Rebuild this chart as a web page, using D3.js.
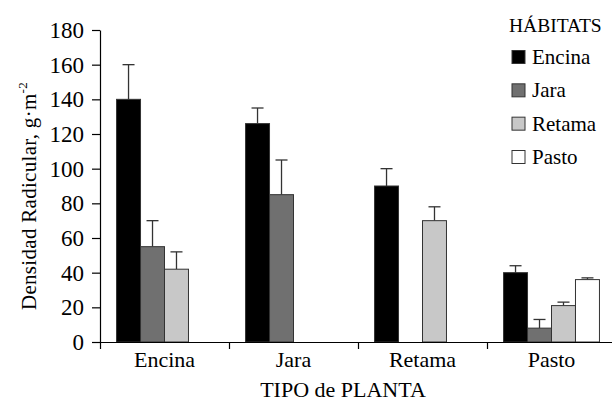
<!DOCTYPE html>
<html>
<head>
<meta charset="utf-8">
<script src="https://cdn.jsdelivr.net/npm/d3@7"></script>
<style>
  html, body { margin: 0; padding: 0; background: #fff; }
  svg { display: block; }
</style>
</head>
<body>
<svg id="chart" width="612" height="401"></svg>
<script>
// plant types on the x axis, habitats as series
const categories = ['Encina', 'Jara', 'Retama', 'Pasto'];
const habitats = ['Encina', 'Jara', 'Retama', 'Pasto'];
const colors = ['#000000', '#707070', '#c8c8c8', '#ffffff'];

// mean values per plant type, one entry per habitat (null = no bar)
const encinaVals = [140, 55, 42, null];
const jaraVals = [126, 85, null, null];
const retamaVals = [90, null, 70, null];
const pastoVals = [40, 8, 21, 36];

// upper end of each error bar
const encinaErr = [160, 70, 52, null];
const jaraErr = [135, 105, null, null];
const retamaErr = [100, null, 78, null];
const pastoErr = [44, 13, 23, 37];

const yTicks = [0, 20, 40, 60, 80, 100, 120, 140, 160, 180];

const values = [encinaVals, jaraVals, retamaVals, pastoVals];
const errs = [encinaErr, jaraErr, retamaErr, pastoErr];

// generic serif set on every text element; no letter-spacing
const FONT = 'serif';
const svg = d3.select('#chart').attr('font-family', FONT);
const M = { left: 100, right: 616, top: 30, bottom: 342 };

const x = d3.scaleBand().domain(categories).range([M.left, M.right]);
const xSub = d3.scaleBand().domain(habitats).range([0, x.bandwidth()]).paddingOuter(0.69);
const y = d3.scaleLinear().domain([0, 180]).range([M.bottom, M.top]);
const xBound = d3.scaleLinear().domain([0, categories.length]).range([M.left, M.right]);

const rows = [];
categories.forEach((c, i) => {
  habitats.forEach((h, j) => {
    if (values[i][j] != null) rows.push({ cat: c, hab: h, v: values[i][j], e: errs[i][j], color: colors[j] });
  });
});

// error bars (drawn under bars)
const eb = svg.append('g').attr('stroke', '#333').attr('stroke-width', 1.3);
rows.forEach(d => {
  const cx = x(d.cat) + xSub(d.hab) + xSub.bandwidth() / 2;
  eb.append('line').attr('x1', cx).attr('x2', cx).attr('y1', y(d.v)).attr('y2', y(d.e));
  eb.append('line').attr('x1', cx - 6).attr('x2', cx + 6).attr('y1', y(d.e)).attr('y2', y(d.e));
});

svg.append('g').selectAll('rect')
  .data(rows)
  .join('rect')
  .attr('x', d => x(d.cat) + xSub(d.hab))
  .attr('y', d => y(d.v))
  .attr('width', xSub.bandwidth())
  .attr('height', d => y(0) - y(d.v))
  .attr('fill', d => d.color)
  .attr('stroke', '#333')
  .attr('stroke-width', 1);

// y axis
const yAxis = svg.append('g')
  .attr('transform', `translate(${M.left},0)`)
  .call(d3.axisLeft(y).tickValues(yTicks).tickSize(8).tickSizeOuter(0).tickPadding(8))
  .attr('font-family', FONT);
yAxis.selectAll('text')
  .attr('fill', '#000')
  .attr('font-family', FONT)
  .attr('font-size', 23);
yAxis.selectAll('line, path').attr('stroke', '#000').attr('stroke-width', 1.2);

// x axis with ticks at category boundaries
const xAxis = svg.append('g')
  .attr('transform', `translate(0,${M.bottom})`)
  .call(d3.axisBottom(xBound).tickValues(d3.range(categories.length)).tickFormat('').tickSize(7).tickSizeOuter(0));
xAxis.selectAll('line, path').attr('stroke', '#000').attr('stroke-width', 1.2);

svg.append('g').selectAll('text')
  .data(categories)
  .join('text')
  .attr('x', d => x(d) + x.bandwidth() / 2)
  .attr('y', 367)
  .attr('text-anchor', 'middle')
  .attr('font-family', FONT)
  .attr('font-size', 22)
  .text(d => d);

svg.append('text')
  .attr('x', 343).attr('y', 397)
  .attr('text-anchor', 'middle')
  .attr('font-family', FONT)
  .attr('font-size', 22)
  .text('TIPO de PLANTA');

const yt = svg.append('text')
  .attr('transform', 'translate(36,196) rotate(-90)')
  .attr('text-anchor', 'middle')
  .attr('font-family', FONT)
  .attr('font-size', 21)
  .attr('letter-spacing', 0.3);
yt.append('tspan').text('Densidad Radicular, g·m');
yt.append('tspan').attr('font-size', 13).attr('dy', -9).text('-2');

// legend
const lg = svg.append('g');
lg.append('text').attr('x', 509).attr('y', 32)
  .attr('font-family', FONT).attr('font-size', 19.5).text('HÁBITATS');
const ly = d3.scalePoint().domain(habitats).range([57, 157]);
habitats.forEach((h, j) => {
  lg.append('rect')
    .attr('x', 512).attr('y', ly(h) - 6.5).attr('width', 13).attr('height', 13)
    .attr('fill', colors[j]).attr('stroke', '#333').attr('stroke-width', 1);
  lg.append('text')
    .attr('x', 532).attr('y', ly(h) + 7)
    .attr('font-family', FONT)
    .attr('font-size', 21)
    .text(h);
});
</script>
</body>
</html>
